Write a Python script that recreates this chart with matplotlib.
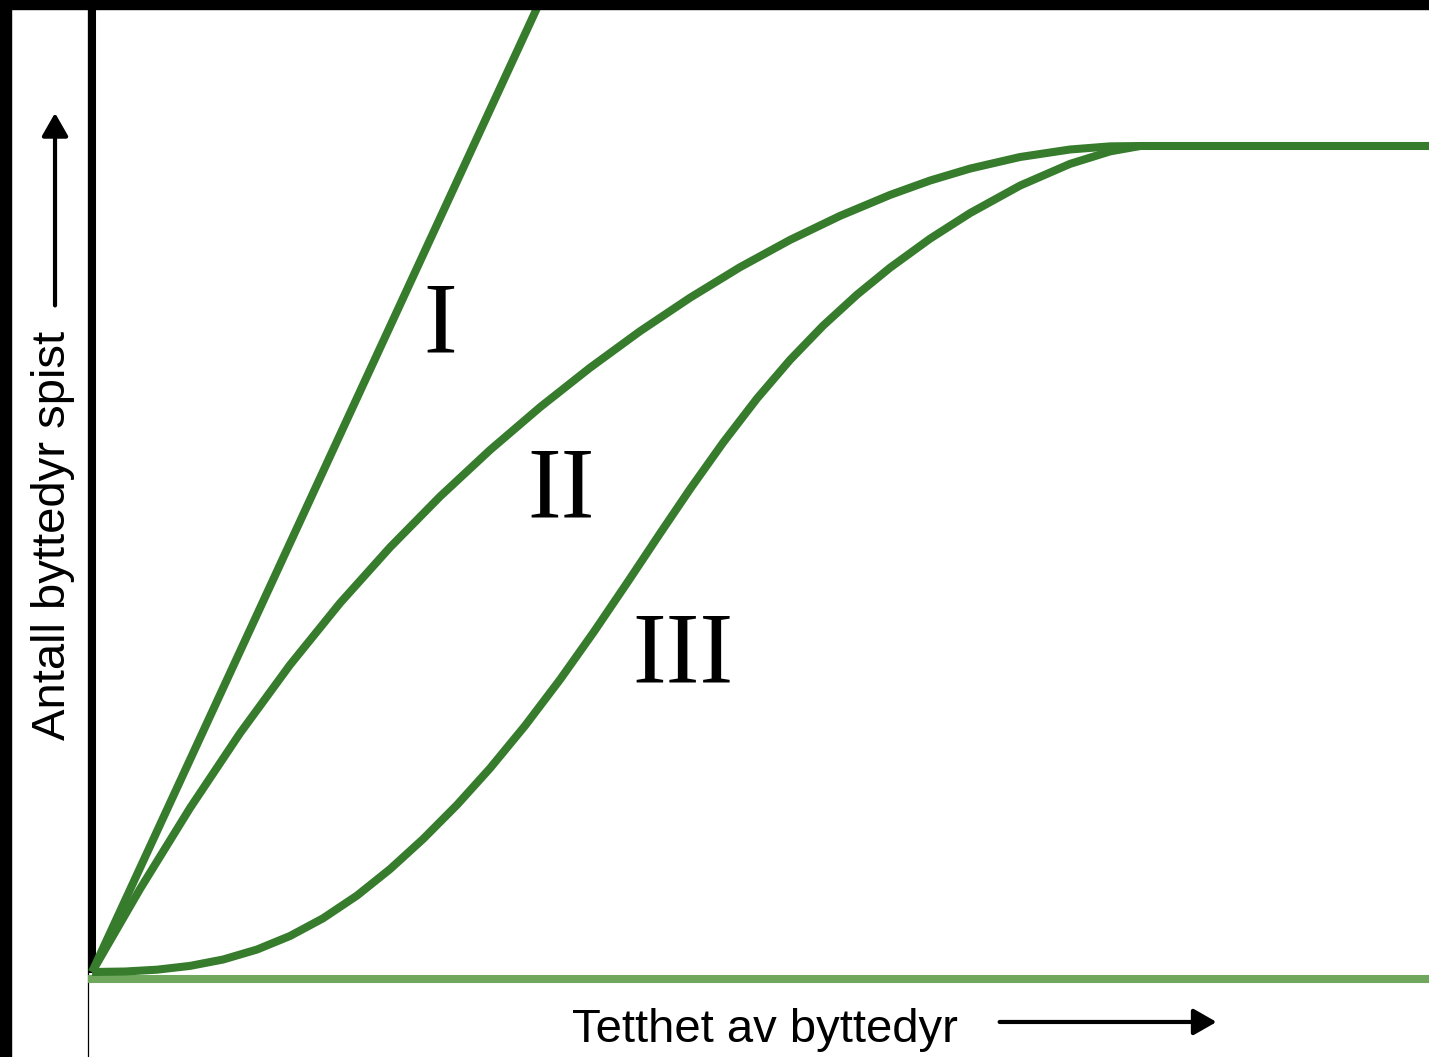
import matplotlib
matplotlib.use("Agg")
import matplotlib.pyplot as plt
from matplotlib.patches import Rectangle

# functional response curves (prey density -> prey eaten)
type1_x = [0, 4.3]
type1_y = [0, 11.82]

type2_x = [0, 0.458, 0.935, 1.412, 1.889, 2.366, 2.844, 3.321, 3.798, 4.275, 4.752, 5.229,
           5.706, 6.183, 6.660, 7.137, 7.615, 7.996, 8.378, 8.855, 9.332, 9.714, 10.0]
type2_y = [0, 1.005, 1.985, 2.891, 3.718, 4.466, 5.142, 5.757, 6.320, 6.838, 7.316, 7.758,
           8.163, 8.533, 8.863, 9.154, 9.408, 9.582, 9.727, 9.867, 9.958, 9.996, 10.0]

type3_x = [0, 0.315, 0.620, 0.935, 1.250, 1.574, 1.889, 2.204, 2.529, 2.844, 3.158, 3.483,
           3.798, 4.132, 4.466, 4.790, 5.115, 5.420, 5.706, 6.021, 6.345, 6.660, 6.975, 7.300,
           7.615, 7.996, 8.378, 8.855, 9.332, 9.714, 10.0]
type3_y = [0, 0.006, 0.028, 0.074, 0.151, 0.272, 0.436, 0.650, 0.926, 1.246, 1.609, 2.024,
           2.467, 2.982, 3.541, 4.121, 4.729, 5.310, 5.846, 6.408, 6.943, 7.410, 7.824, 8.201,
           8.527, 8.878, 9.188, 9.521, 9.784, 9.935, 10.0]

plateau_x = [10.0, 12.8]
plateau_y = [10.0, 10.0]

labels = ["I", "II", "III"]
label_x = [3.32, 4.475, 5.64]
label_y = [7.5, 5.5, 3.5]

xlabel = "Tetthet av byttedyr"
ylabel = "Antall byttedyr spist"

dark_green = "#367c2c"
light_green = "#6fa85c"

fig = plt.figure(figsize=(14.29, 10.57), dpi=100)
ax = fig.add_axes([0, 0, 1, 1])
ax.set_xlim(-0.878, 12.757)
ax.set_ylim(-1.029, 11.768)
ax.axis("off")

# axes lines
ax.plot([0, 0], [-0.012, 11.8], color="black", lw=5.8, solid_capstyle="butt", zorder=2)
ax.plot([-0.043, -0.043], [-1.1, 11.8], color="black", lw=0.9, zorder=2)
ax.plot([-0.04, 12.8], [-0.085, -0.085], color=light_green, lw=5.8, solid_capstyle="butt", zorder=2)

# the three curves
for xs, ys in [(type1_x, type1_y), (type2_x, type2_y), (type3_x, type3_y)]:
    ax.plot(xs, ys, color=dark_green, lw=5.8, solid_capstyle="butt", solid_joinstyle="round", zorder=3)
ax.plot(plateau_x, plateau_y, color=dark_green, lw=5.8, solid_capstyle="butt", zorder=3)

for lab, x, y in zip(labels, label_x, label_y):
    ax.text(x, y, lab, family="Liberation Serif", fontsize=73, ha="center", va="baseline")

# axis titles with arrows
ax.text(4.58, -0.847, xlabel, family="Liberation Sans", fontsize=34, ha="left", va="baseline")
ax.annotate("", xy=(10.73, -0.605), xytext=(8.66, -0.605),
            arrowprops=dict(arrowstyle="-|>,head_length=0.7,head_width=0.4", mutation_scale=20,
                            color="black", lw=3, shrinkA=0, shrinkB=0))

ax.text(-0.258, 5.28, ylabel, family="Liberation Sans", fontsize=34, rotation=90,
        rotation_mode="anchor", ha="center", va="baseline")
ax.annotate("", xy=(-0.353, 10.40), xytext=(-0.353, 8.07),
            arrowprops=dict(arrowstyle="-|>,head_length=0.7,head_width=0.4", mutation_scale=20,
                            color="black", lw=3, shrinkA=0, shrinkB=0))

# black frame bits on left and top
fig.add_artist(Rectangle((0, 0), 11 / 1429, 1, transform=fig.transFigure, color="black", zorder=10))
fig.add_artist(Rectangle((0, 1 - 9 / 1057), 1, 9 / 1057, transform=fig.transFigure, color="black", zorder=10))

fig.savefig("out.png", dpi=100)
